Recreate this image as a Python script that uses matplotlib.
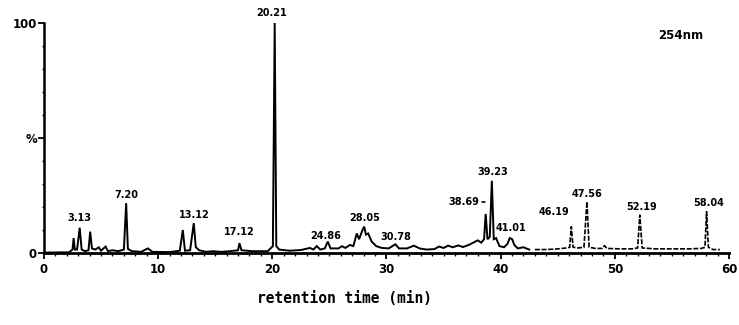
import numpy as np
import matplotlib as mpl
mpl.use("Agg")
import matplotlib.pyplot as plt
from matplotlib.ticker import MultipleLocator, FixedLocator, FixedFormatter

# chromatogram trace (min, % of max)
rt = [0.0, 2.2, 2.5, 2.6, 2.7, 2.9, 3.13, 3.3, 3.6, 3.9, 4.05, 4.2, 4.5, 4.8, 5.0,
      5.4, 5.6, 6.0, 6.5, 7.0, 7.2, 7.35, 7.7, 8.5, 9.1, 9.5, 11.0, 11.9, 12.16,
      12.35, 12.8, 13.12, 13.3, 13.6, 14.2, 14.8, 15.5, 16.3, 17.0, 17.12, 17.3,
      18.2, 19.6, 20.05, 20.21, 20.35, 20.6, 21.5, 22.5, 23.3, 23.6, 23.9, 24.2,
      24.6, 24.86, 25.1, 25.8, 26.1, 26.4, 26.8, 27.1, 27.4, 27.6, 27.9, 28.05,
      28.2, 28.4, 28.7, 29.1, 29.6, 30.2, 30.78, 31.1, 31.8, 32.4, 32.9, 33.5,
      34.2, 34.6, 35.0, 35.4, 35.8, 36.3, 36.7, 37.2, 37.6, 38.0, 38.3, 38.55,
      38.69, 38.85, 39.05, 39.23, 39.4, 39.6, 39.9, 40.3, 40.6, 40.8, 41.01,
      41.2, 41.5, 42.0, 42.5, 43.0, 44.0, 45.0, 45.8, 46.05, 46.19, 46.35, 46.8,
      47.3, 47.56, 47.75, 48.3, 48.9, 49.1, 49.3, 50.5, 51.5, 52.0, 52.19, 52.4,
      53.5, 55.0, 56.5, 57.6, 57.9, 58.04, 58.2, 58.6, 59.2]
intensity = [0.2, 0.3, 1.5, 6.5, 1.5, 1.5, 11.0, 1.5, 0.8, 1.2, 9.3, 2.0, 1.5, 2.5, 1.0,
             2.8, 0.8, 1.2, 0.8, 1.5, 21.7, 1.8, 0.8, 0.5, 2.0, 0.5, 0.4, 1.0, 10.0,
             1.0, 1.2, 13.0, 2.5, 1.2, 0.5, 0.8, 0.5, 0.8, 1.2, 4.3, 1.2,
             0.8, 0.8, 3.0, 100.0, 3.0, 1.5, 1.0, 1.3, 2.2, 1.5, 3.0, 1.5,
             2.0, 5.0, 2.0, 2.0, 3.0, 2.2, 3.5, 3.0, 8.5, 6.0, 10.0, 11.5,
             8.0, 8.5, 5.0, 3.0, 2.2, 2.0, 3.8, 2.0, 2.0, 3.2, 2.0, 1.5,
             1.7, 2.8, 2.2, 3.2, 2.5, 3.3, 2.6, 3.5, 4.5, 5.5, 4.5, 6.0,
             17.0, 6.0, 7.0, 31.4, 6.0, 6.5, 3.0, 2.5, 4.0, 6.5, 6.0,
             3.5, 2.0, 2.5, 1.5, 1.5, 1.5, 1.8, 2.2, 2.5, 11.4, 2.5, 2.2,
             2.5, 22.3, 2.5, 2.0, 2.0, 3.2, 2.0, 1.8, 1.8, 2.2, 16.5, 2.2,
             1.8, 1.8, 1.8, 2.0, 2.5, 18.0, 2.5, 1.5, 1.5]

# labelled peaks
peak_labels = ["3.13", "7.20", "13.12", "17.12", "20.21", "24.86", "28.05", "30.78",
               "38.69", "39.23", "41.01", "46.19", "47.56", "52.19", "58.04"]
peak_heights = [11.0, 21.7, 13.0, 4.3, 100.0, 5.0, 11.5, 3.8,
                22.2, 31.4, 6.5, 11.4, 22.3, 16.5, 18.0]
# label offsets from the peak top, in pixels
label_offsets = [(0, 10), (0, 8), (1, 8), (0, 11), (-3, 10), (-2, 6), (0, 9), (0, 7),
                 (-21, 0), (1, 9), (-1, 10), (-17, 15), (0, 8), (2, 8), (2, 9)]

xticks = [0, 10, 20, 30, 40, 50, 60]
yticks = [0, 50, 100]
ytick_labels = ["0", "%", "100"]

fig = plt.figure(figsize=(7.39, 3.25), dpi=100)
ax = fig.add_axes([0.0595, 0.2215, 0.9269, 0.7077])

rt_a = np.array(rt)
int_a = np.array(intensity)
solid = rt_a <= 42.5
ax.plot(rt_a[solid], int_a[solid], color="black", lw=1.4, solid_joinstyle="miter")
ax.plot(rt_a[~solid], int_a[~solid], color="black", lw=1.2, linestyle=(0, (3, 1)))

for lab, h, off in zip(peak_labels, peak_heights, label_offsets):
    t = float(lab)
    if lab == "38.69":
        # this label has a short leader dash
        ax.annotate(lab, xy=(38.62, h), xytext=off, textcoords="offset pixels",
                    ha="center", va="center", fontsize=7, fontweight="bold",
                    annotation_clip=False,
                    arrowprops=dict(arrowstyle="-", lw=1.2, shrinkA=0, shrinkB=0,
                                    color="black"))
    else:
        ax.annotate(lab, xy=(t, h), xytext=off, textcoords="offset pixels",
                    ha="center", va="center", fontsize=7, fontweight="bold",
                    annotation_clip=False)

ax.text(55.8, 94.5, "254nm", ha="center", va="center", fontsize=8.5, fontweight="bold")

ax.set_xlim(0, 60)
ax.set_ylim(0, 100)
ax.xaxis.set_major_locator(FixedLocator(xticks))
ax.xaxis.set_minor_locator(MultipleLocator(1))
ax.yaxis.set_major_locator(FixedLocator(yticks))
ax.yaxis.set_major_formatter(FixedFormatter(ytick_labels))
ax.yaxis.set_minor_locator(MultipleLocator(10))
ax.tick_params(axis="x", which="major", direction="out", length=4, width=1.3,
               pad=3, labelsize=8.5)
ax.tick_params(axis="x", which="minor", direction="out", length=2.5, width=1)
ax.tick_params(axis="y", which="major", direction="out", length=4, width=1.3,
               pad=1, labelsize=8.5)
ax.tick_params(axis="y", which="minor", direction="out", length=1.5, width=1)
for lbl in ax.get_xticklabels() + ax.get_yticklabels():
    lbl.set_fontweight("bold")

ax.spines["top"].set_visible(False)
ax.spines["right"].set_visible(False)
ax.spines["left"].set_linewidth(1.8)
ax.spines["bottom"].set_linewidth(2.0)

ax.set_xlabel("retention time (min)", fontsize=10.5, fontweight="bold",
              family="DejaVu Sans Mono")
ax.xaxis.set_label_coords((345 - 44) / 685, -0.165)

fig.savefig("out.png", dpi=100)
